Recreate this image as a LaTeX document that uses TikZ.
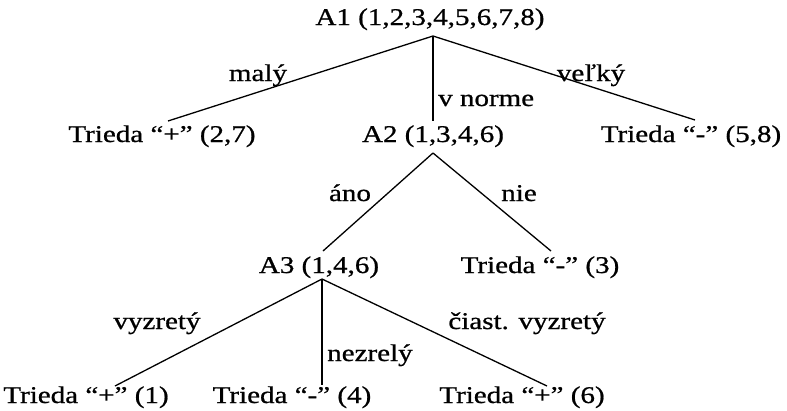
\documentclass[tikz,border=0pt]{standalone}
\usepackage{fontspec}
\setmainfont{Liberation Serif}[FakeStretch=1.21,FakeBold=0.8]
\begin{document}
\begin{tikzpicture}[x=1pt,y=-1pt,
  every node/.style={font=\fontsize{24}{26}\selectfont, inner sep=0pt},
  tnode/.style={text height=15pt, text depth=5pt, inner ysep=4pt, inner xsep=2pt},
  lbl/.style={text height=15pt, text depth=5pt},
  br/.style={line width=1.3pt, black}]
\useasboundingbox (0,0) rectangle (787,410);
% nodes
\node[tnode] (A1) at (430,20) {A1 (1,2,3,4,5,6,7,8)};
\node[tnode] (T1) at (162,137) {Trieda “+” (2,7)};
\node[tnode] (A2) at (433,137) {A2 (1,3,4,6)};
\node[tnode] (T2) at (691,137) {Trieda “-” (5,8)};
\node[tnode] (A3) at (319,268) {A3 (1,4,6)};
\node[tnode] (T3) at (540,268) {Trieda “-” (3)};
\node[tnode] (T4) at (86,398) {Trieda “+” (1)};
\node[tnode] (T5) at (292,398) {Trieda “-” (4)};
\node[tnode] (T6) at (522,398) {Trieda “+” (6)};
% connectors
\coordinate (a1) at (433,36);
\coordinate (a2) at (433,153);
\coordinate (a3) at (322,279);
\draw[br] (a1) -- (168,121) coordinate (e1);
\draw[br] (a1) -- (433,121) coordinate (e2);
\draw[br] (a1) -- (695,120) coordinate (e3);
\draw[br] (a2) -- (323,251) coordinate (e4);
\draw[br] (a2) -- (551,251) coordinate (e5);
\draw[br] (a3) -- (115,386) coordinate (e6);
\draw[br] (a3) -- (322,385) coordinate (e7);
\draw[br] (a3) -- (547,386) coordinate (e8);
% labels
\node[lbl] (l1) at (258,76) {malý};
\node[lbl, anchor=west] (l2) at (438,101) {v norme};
\node[lbl] (l3) at (591,76) {veľký};
\node[lbl] (l4) at (350,196) {áno};
\node[lbl] (l5) at (519,196) {nie};
\node[lbl] (l6) at (157,324) {vyzretý};
\node[lbl, anchor=west] (l7) at (327,356) {nezrelý};
\node[lbl] (l8) at (527,324) {čiast. vyzretý};
\end{tikzpicture}
\end{document}
